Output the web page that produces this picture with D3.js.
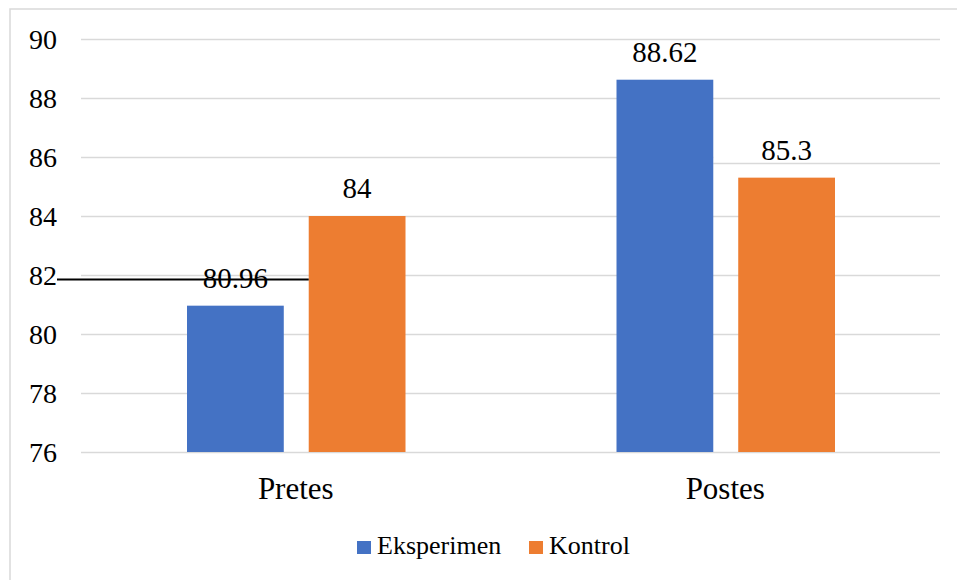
<!DOCTYPE html>
<html><head><meta charset="utf-8">
<script src="https://cdn.jsdelivr.net/npm/d3@7/dist/d3.min.js"></script>
</head><body style="margin:0">
<svg id="s" width="957" height="580"></svg>
<script>
// Chart data
const categories = ["Pretes", "Postes"];
const seriesNames = ["Eksperimen", "Kontrol"];
const eksperimen = [80.96, 88.62];
const kontrol = [84, 85.3];
const valueLabels = [["80.96", "84"], ["88.62", "85.3"]];
const yTicks = [76, 78, 80, 82, 84, 86, 88, 90];
const colors = ["#4472C4", "#ED7D31"];

const FONT = "'Liberation Serif'";
const BASE_SIZE = 32; // glyphs are set at this size, then scaled to the wanted size
const svg = d3.select("#s");
const plot = { left: 81, right: 940, top: 39, bottom: 452 };

// Outer frame
svg.append("rect")
  .attr("x", 10).attr("y", 9)
  .attr("width", 980).attr("height", 620)
  .attr("fill", "none").attr("stroke", "#d9d9d9").attr("stroke-width", 1.5);

const y = d3.scaleLinear().domain([76, 90]).range([plot.bottom, plot.top]);
const x0 = d3.scaleBand().domain(categories).range([plot.left, plot.right]);
const groupInset = 106;
const x1 = d3.scaleBand().domain(seriesNames)
  .range([groupInset, x0.bandwidth() - groupInset + 1])
  .paddingInner(0.205);

// Gridlines; the 86 line steps down slightly past the Postes blue bar
const splitX = x0("Postes") + x1("Eksperimen") + x1.bandwidth();
const gridSegs = [];
yTicks.forEach(t => {
  const yy = Math.round(y(t)) + 0.5;
  if (t === 86) {
    gridSegs.push({ x1: plot.left, x2: splitX, y: yy });
    gridSegs.push({ x1: splitX, x2: plot.right, y: yy + 6 });
  } else {
    gridSegs.push({ x1: plot.left, x2: plot.right, y: yy });
  }
});
svg.selectAll("line.grid").data(gridSegs).join("line")
  .attr("class", "grid")
  .attr("x1", d => d.x1).attr("x2", d => d.x2)
  .attr("y1", d => d.y).attr("y2", d => d.y)
  .attr("stroke", "#d9d9d9").attr("stroke-width", 1.5);

// Bars
const barData = [];
categories.forEach((c, i) => {
  [eksperimen[i], kontrol[i]].forEach((v, j) => {
    barData.push({ cat: c, s: seriesNames[j], j, v, lab: valueLabels[i][j] });
  });
});
svg.selectAll("rect.bar").data(barData).join("rect")
  .attr("class", "bar")
  .attr("x", d => x0(d.cat) + x1(d.s))
  .attr("y", d => y(d.v))
  .attr("width", x1.bandwidth())
  .attr("height", d => y(76) - y(d.v))
  .attr("fill", d => colors[d.j]);

// Black marker line at 82 across the Pretes group
svg.append("line")
  .attr("x1", 57).attr("x2", x0("Pretes") + x1("Kontrol"))
  .attr("y1", y(82) + 4.5).attr("y2", y(82) + 4.5)
  .attr("stroke", "#000").attr("stroke-width", 2);

// Legend swatches
const legendX = [357, 529];
svg.selectAll("rect.key").data(seriesNames).join("rect")
  .attr("class", "key")
  .attr("x", (d, j) => legendX[j]).attr("y", 541)
  .attr("width", 14).attr("height", 13)
  .attr("fill", (d, j) => colors[j]);

// All text labels: y ticks, bar values, categories, legend names
const fmt = d3.format("d");
const texts = [];
yTicks.forEach(t => texts.push({ x: 57, y: y(t) + 10, t: fmt(t), size: 28, anchor: "end" }));
barData.forEach(d => texts.push({
  x: x0(d.cat) + x1(d.s) + x1.bandwidth() / 2, y: y(d.v) - 18, t: d.lab, size: 29, anchor: "middle"
}));
categories.forEach(c => texts.push({ x: x0(c) + x0.bandwidth() / 2, y: 499, t: c, size: 31, anchor: "middle" }));
seriesNames.forEach((n, j) => texts.push({ x: legendX[j] + 20, y: 554, t: n, size: 26, anchor: "start" }));

svg.selectAll("text").data(texts).join("text")
  .attr("transform", d => `translate(${d.x},${d.y}) scale(${d.size / BASE_SIZE})`)
  .attr("text-anchor", d => d.anchor)
  .attr("font-family", "Liberation Serif")
  .style("font-family", FONT)
  .style("font-size", BASE_SIZE + "px")
  .text(d => d.t);
</script></body></html>
